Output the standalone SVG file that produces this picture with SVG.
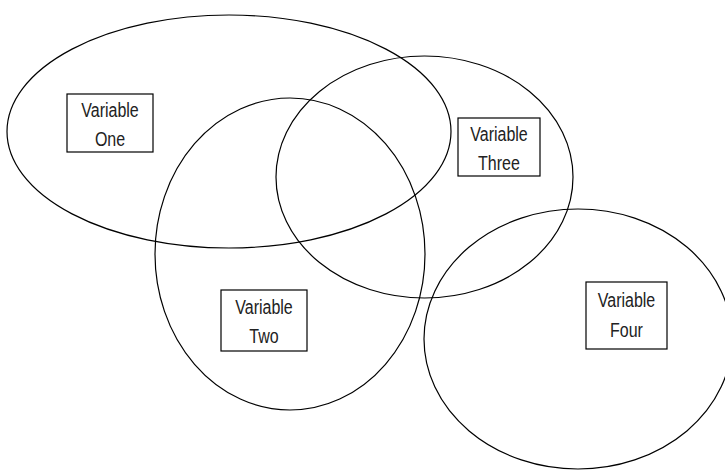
<svg xmlns="http://www.w3.org/2000/svg" width="725" height="474" viewBox="0 0 725 474">
  <style>
    .set { fill: none; stroke: #000; stroke-width: 1.2; }
    .box { fill: #fff; stroke: #000; stroke-width: 1.2; }
    .lbl { font-family: "Liberation Sans", Arial, sans-serif; font-size: 20px; fill: #222; text-anchor: middle; }
  </style>
  <rect width="725" height="474" fill="#fff"/>

  <!-- overlapping sets -->
  <g id="sets">
    <ellipse id="set-one" class="set" cx="229" cy="131.5" rx="222" ry="116.5"/>
    <ellipse id="set-two" class="set" cx="290" cy="254" rx="135" ry="156"/>
    <ellipse id="set-three" class="set" cx="424.5" cy="177" rx="148.5" ry="121"/>
    <ellipse id="set-four" class="set" cx="578" cy="339" rx="154" ry="130"/>
  </g>

  <!-- labels -->
  <g id="variable-one">
    <rect class="box" x="67" y="94" width="86" height="58"/>
    <text class="lbl" transform="translate(110 117) scale(0.8 1)">Variable</text>
    <text class="lbl" transform="translate(110 146) scale(0.8 1)">One</text>
  </g>
  <g id="variable-three">
    <rect class="box" x="458" y="118" width="82" height="58"/>
    <text class="lbl" transform="translate(499 141) scale(0.8 1)">Variable</text>
    <text class="lbl" transform="translate(499 170) scale(0.8 1)">Three</text>
  </g>
  <g id="variable-two">
    <rect class="box" x="221" y="290" width="86" height="61"/>
    <text class="lbl" transform="translate(264 314) scale(0.8 1)">Variable</text>
    <text class="lbl" transform="translate(264 343) scale(0.8 1)">Two</text>
  </g>
  <g id="variable-four">
    <rect class="box" x="586" y="282" width="81" height="67"/>
    <text class="lbl" transform="translate(626.5 307) scale(0.8 1)">Variable</text>
    <text class="lbl" transform="translate(626.5 337) scale(0.8 1)">Four</text>
  </g>
</svg>
